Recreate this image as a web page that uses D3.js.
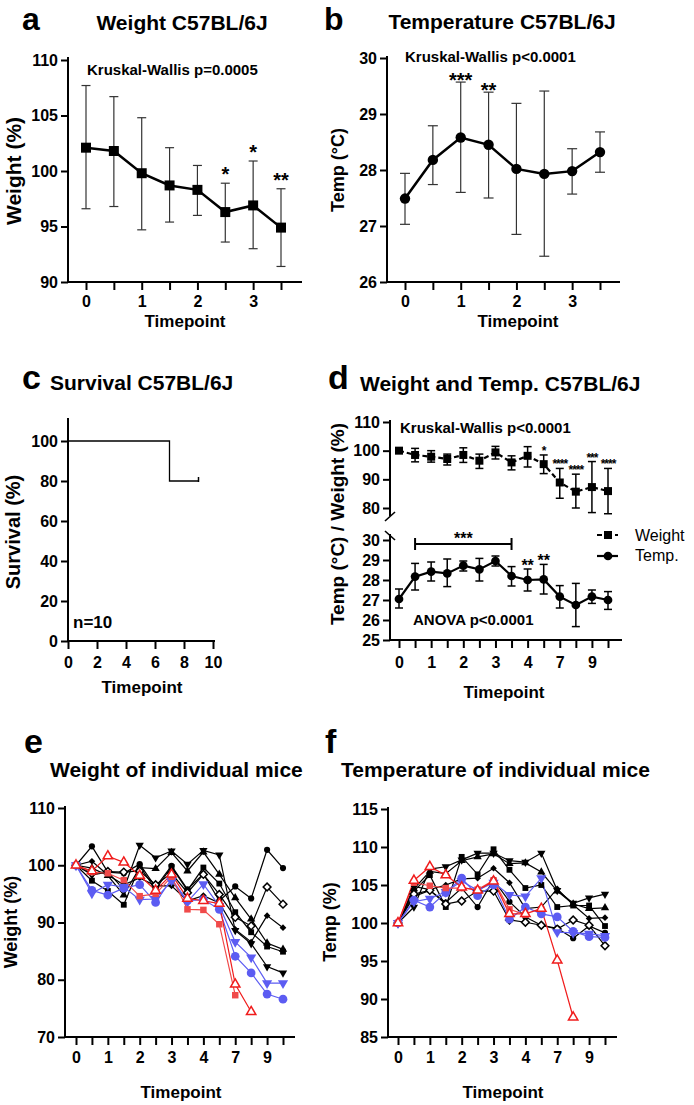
<!DOCTYPE html>
<meta charset="utf-8">
<style>
    body { margin: 0; background: #fff; }
    svg { font-family: "Liberation Sans", Arial, Helvetica, sans-serif; }
    .axis text { font-size: 16px; font-weight: bold; fill: #000; font-family: "Liberation Sans", Arial, sans-serif; }
    .axis line { stroke: #000; stroke-width: 2; }
</style>
<svg width="694" height="1105"></svg>
<script src="https://cdn.jsdelivr.net/npm/d3@7"></script>
<script>

    // ---- data ----
    var shortLabels = ["0", "", "1", "", "2", "", "3", ""];
    var longLabels = ["0", "", "1", "", "2", "", "3", "", "4", "", "7", "", "9", ""];

    // a: weight
    var wMean = [102.1, 101.8, 99.8, 98.7, 98.3, 96.3, 96.9, 94.9];
    var wHi = [107.7, 106.7, 104.8, 102.1, 100.5, 98.9, 100.9, 98.4];
    var wLo = [96.6, 96.8, 94.7, 95.4, 96.0, 93.6, 93.0, 91.4];
    var wStars = ["", "", "", "", "", "*", "*", "**"];

    // b: temperature
    var tMean = [27.49, 28.18, 28.58, 28.45, 28.02, 27.93, 27.98, 28.32];
    var tHi = [27.94, 28.79, 29.57, 29.39, 29.19, 29.41, 28.38, 28.68];
    var tLo = [27.03, 27.74, 27.60, 27.50, 26.85, 26.46, 27.57, 27.96];
    var tStars = ["", "", "***", "**", "", "", "", ""];

    // c: survival
    var survTime = [0, 7, 9];
    var survPct = [100, 80, 80];

    // d: weight and temp
    var dwMean = [100, 98.5, 97.9, 97.1, 98.5, 96.5, 99.4, 95.9, 98.2, 95.3, 88.9, 85.7, 87.3, 85.9];
    var dwHi = [100, 100.8, 100.0, 98.8, 101.0, 98.8, 101.5, 98.2, 101.4, 98.5, 93.8, 91.8, 96.2, 93.8];
    var dwLo = [100, 96.1, 96.0, 95.0, 95.9, 93.8, 97.1, 93.3, 94.3, 92.0, 83.4, 80.0, 78.4, 78.0];
    var dwStars = ["", "", "", "", "", "", "", "", "", "*", "****", "****", "***", "****"];
    var dtMean = [27.05, 28.17, 28.42, 28.33, 28.72, 28.53, 28.95, 28.20, 28.00, 28.03, 27.17, 26.75, 27.17, 27.00];
    var dtHi = [27.55, 28.83, 28.90, 29.05, 28.95, 29.08, 29.20, 28.67, 28.55, 28.78, 27.72, 27.83, 27.50, 27.42];
    var dtLo = [26.60, 27.50, 27.95, 27.67, 28.45, 27.95, 28.70, 27.70, 27.45, 27.30, 26.60, 25.67, 26.83, 26.53];
    var dtStars = ["", "", "", "", "", "", "", "", "**", "**", "", "", "", ""];
    var dtBracket = { from: 1, to: 7, level: 29.8, label: "***" };

    // e: weight of individual mice
    var eMice = [
        [100, 103.3, 98.8, 98.6, 100.2, 96.2, 99.9, 95.8, 98.5, 93.8, 96.3, 94.2, 102.7, 99.5],
        [100, 98.3, 98.8, 95.8, 103.5, 101.3, 102.5, 100.2, 102.6, 101.8, 88.6, 86.3, 82.3, 81.2],
        [100, 99.5, 98.2, 94.8, 99.6, 99.4, 102.2, 99.0, 102.3, 98.4, 94.3, 90.6, 86.4, 85.3],
        [100, 97.3, 95.5, 93.1, 99.8, 95.8, 99.7, 95.6, 99.6, 96.8, 91.8, 88.3, 85.8, 84.9],
        [100, 100.7, 98.3, 96.6, 97.8, 96.4, 96.4, 93.8, 94.7, 93.4, 88.8, 86.6, 91.2, 89.1],
        [100, 98.6, 98.9, 98.8, 99.0, 96.6, 98.6, 95.2, 98.4, 94.9, 90.9, 89.4, 96.2, 93.2],
        [100, 95.6, 94.8, 96.0, 96.6, 93.5, 97.6, 93.8, 94.0, 92.3, 84.1, 81.2, 77.5, 76.6],
        [100, 95.1, 96.6, 96.2, 94.0, 94.1, 97.3, 93.6, 96.7, 92.9, 86.6, 83.9, 79.4, 79.4],
        [100, 98.8, 98.6, 97.4, 94.6, 95.0, 98.0, 92.3, 92.2, 89.7, 77.3],
        [100, 99.0, 101.6, 100.5, 98.2, 95.6, 98.4, 94.2, 93.8, 93.3, 79.2, 74.4]
    ];

    // f: temperature of individual mice
    var fMice = [
        [100, 103.5, 104.3, 102.7, 104.6, 102.1, 105.7, 102.8, 100.8, 99.7, 99.3, 98.0, 99.6, 98.7],
        [100, 102.1, 107.1, 107.4, 108.3, 109.2, 109.2, 108.2, 108.0, 109.2, 104.3, 102.6, 103.3, 103.8],
        [100, 104.5, 106.8, 106.5, 108.2, 108.7, 109.1, 107.8, 107.9, 106.7, 104.2, 102.5, 101.9, 102.0],
        [100, 104.2, 106.3, 102.1, 108.7, 106.4, 109.7, 107.0, 104.6, 105.0, 102.1, 102.3, 102.3, 99.6],
        [100, 104.8, 104.4, 105.0, 105.8, 105.9, 107.2, 105.3, 101.9, 102.1, 104.5, 102.4, 100.6, 100.7],
        [100, 103.8, 104.3, 102.5, 102.9, 104.2, 104.2, 100.4, 100.1, 99.7, 99.2, 100.4, 99.7, 97.0],
        [100, 103.0, 102.1, 104.0, 105.9, 103.6, 105.0, 100.5, 102.1, 101.2, 100.8, 98.9, 98.2, 98.1],
        [100, 102.8, 103.2, 104.1, 105.5, 104.3, 105.3, 103.7, 103.5, 105.9, 98.8, 98.7, 98.6, 98.3],
        [100, 105.3, 104.9, 104.6, 104.6, 104.4, 105.6, 101.8, 101.1],
        [100, 105.6, 107.4, 106.3, 104.7, 104.3, 105.5, 101.2, 101.2, 101.9, 95.1, 87.6]
    ];

    // per-mouse look (same order in e and f)
    var mouseSym = ["circle", "down", "up", "square", "diamond", "diamond", "circle", "down", "square", "up"];
    var mouseCol = ["#000", "#000", "#000", "#000", "#000", "#000", "#5c5cf2", "#5c5cf2", "#f04a4a", "#f01c1c"];
    var mouseOpen = [false, false, false, false, false, true, false, false, false, true];
    var mouseSize = [30, 30, 30, 34, 22, 30, 60, 45, 42, 38];

    // ---- helpers ----
    var svg = d3.select("svg");

    function seg(x1, y1, x2, y2, w, col, dash) {
        return svg.append("line")
            .attr("x1", x1).attr("y1", y1).attr("x2", x2).attr("y2", y2)
            .attr("stroke", col || "#000").attr("stroke-width", w || 2)
            .attr("stroke-dasharray", dash || null);
    }

    function label(x, y, s, size, anchor, weight, rot) {
        var t = svg.append("text")
            .attr("x", x).attr("y", y)
            .attr("font-size", size)
            .attr("font-weight", weight || "bold")
            .attr("text-anchor", anchor || "start")
            .attr("fill", "#000")
            .text(s);
        if (rot) t.attr("transform", "rotate(-90," + x + "," + y + ")");
        return t;
    }

    function yAxis(sc, ticks, x, top, bottom) {
        var g = svg.append("g").attr("class", "axis")
            .attr("transform", "translate(" + x + ",0)")
            .call(d3.axisLeft(sc).tickValues(ticks).tickSize(7).tickPadding(3).tickFormat(d3.format("d")));
        g.select(".domain").remove();
        seg(x, top, x, bottom, 2);
    }

    function xAxis(sc, ticks, fmt, y, left, right, pad) {
        var g = svg.append("g").attr("class", "axis")
            .attr("transform", "translate(0," + y + ")")
            .call(d3.axisBottom(sc).tickValues(ticks).tickSize(8).tickPadding(pad).tickFormat(fmt));
        g.select(".domain").remove();
        seg(left, y, right, y, 2);
    }

    function errBars(x, y, lo, hi, cap, w, col) {
        lo.forEach(function (l, i) {
            var xi = x(i);
            seg(xi, y(l), xi, y(hi[i]), w, col);
            seg(xi - cap / 2, y(l), xi + cap / 2, y(l), w, col);
            seg(xi - cap / 2, y(hi[i]), xi + cap / 2, y(hi[i]), w, col);
        });
    }

    function symType(s) {
        if (s === "circle") return d3.symbolCircle;
        if (s === "up" || s === "down") return d3.symbolTriangle;
        return d3.symbolSquare;
    }
    function symRot(s) {
        if (s === "down") return " rotate(180)";
        if (s === "diamond") return " rotate(45)";
        return "";
    }

    function markers(x, y, vals, s, size, fill, stroke, sw) {
        svg.append("g").selectAll("path")
            .data(vals.map(function (v, i) { return [i, v]; }))
            .join("path")
            .attr("transform", function (d) {
                return "translate(" + x(d[0]) + "," + y(d[1]) + ")" + symRot(s);
            })
            .attr("d", d3.symbol(symType(s), size))
            .attr("fill", fill)
            .attr("stroke", stroke || "none")
            .attr("stroke-width", sw || 0);
    }

    function trace(x, y, vals, w, col, dash) {
        svg.append("path")
            .datum(vals)
            .attr("fill", "none")
            .attr("stroke", col)
            .attr("stroke-width", w)
            .attr("stroke-dasharray", dash || null)
            .attr("d", d3.line().x(function (d, i) { return x(i); }).y(function (d) { return y(d); }));
    }

    function stars(x, y, hi, st, size, dy, spacing) {
        st.forEach(function (s, i) {
            if (s) label(x(i), y(hi[i]) + dy, s, size, "middle")
                .attr("letter-spacing", spacing || null);
        });
    }

    // ---- a ----
    var xa = d3.scalePoint().domain(d3.range(wMean.length)).range([86, 281]);
    var ya = d3.scaleLinear().domain([90, 110]).range([282, 60]);
    label(22, 30, "a", 32);
    label(182, 30, "Weight C57BL/6J", 21, "middle");
    yAxis(ya, [90, 95, 100, 105, 110], 68, 57, 282);
    xAxis(xa, d3.range(8), function (i) { return shortLabels[i]; }, 282, 67, 302, 6);
    label(21, 171, "Weight (%)", 21, "middle", "bold", true);
    label(185, 327, "Timepoint", 17, "middle");
    label(87, 75, "Kruskal-Wallis p=0.0005", 15);
    errBars(xa, ya, wLo, wHi, 9, 1.2, "#333");
    trace(xa, ya, wMean, 2.5, "#000");
    markers(xa, ya, wMean, "square", 100, "#000");
    stars(xa, ya, wHi, wStars, 20, -2);

    // ---- b ----
    var xb = d3.scalePoint().domain(d3.range(tMean.length)).range([405, 600]);
    var yb = d3.scaleLinear().domain([26, 30]).range([282, 58]);
    label(324, 30, "b", 32);
    label(502, 29, "Temperature C57BL/6J", 21, "middle");
    yAxis(yb, [26, 27, 28, 29, 30], 387, 56, 282);
    xAxis(xb, d3.range(8), function (i) { return shortLabels[i]; }, 282, 386, 620, 6);
    label(344, 170, "Temp (°C)", 18, "middle", "bold", true);
    label(518, 327, "Timepoint", 17, "middle");
    label(405, 62, "Kruskal-Wallis p<0.0001", 15);
    errBars(xb, yb, tLo, tHi, 10, 1.2, "#333");
    trace(xb, yb, tMean, 2.5, "#000");
    markers(xb, yb, tMean, "circle", 85, "#000");
    stars(xb, yb, tHi, tStars, 20, 5);

    // ---- c ----
    var xc = d3.scaleLinear().domain([0, 10]).range([68, 213]);
    var yc = d3.scaleLinear().domain([0, 100]).range([641, 441]);
    label(22, 389, "c", 34);
    label(50, 390, "Survival C57BL/6J", 21);
    yAxis(yc, [0, 20, 40, 60, 80, 100], 68, 418, 641);
    xAxis(xc, [0, 2, 4, 6, 8, 10], d3.format("d"), 641, 67, 215, 8);
    label(20, 532, "Survival (%)", 20, "middle", "bold", true);
    label(142, 693, "Timepoint", 17, "middle");
    label(73, 628, "n=10", 17);
    svg.append("path")
        .datum(survTime.map(function (t, i) { return [t, survPct[i]]; }))
        .attr("fill", "none").attr("stroke", "#000").attr("stroke-width", 1.3)
        .attr("d", d3.line().curve(d3.curveStepAfter)
            .x(function (d) { return xc(d[0]); }).y(function (d) { return yc(d[1]); }));
    var last = survTime.length - 1;
    seg(xc(survTime[last]), yc(survPct[last]) - 4, xc(survTime[last]), yc(survPct[last]) + 1, 1.5);

    // ---- d ----
    var xd = d3.scalePoint().domain(d3.range(dwMean.length)).range([399, 608]);
    var ydUp = d3.scaleLinear().domain([80, 110]).range([508, 422]);
    var ydLo = d3.scaleLinear().domain([25, 30]).range([640, 540]);
    label(328, 389, "d", 34);
    label(360, 391, "Weight and Temp. C57BL/6J", 21);
    yAxis(ydUp, [80, 90, 100, 110], 390, 420, 516);
    yAxis(ydLo, [25, 26, 27, 28, 29, 30], 390, 534, 640);
    seg(385, 521, 395, 512, 1.6);
    seg(385, 531, 395, 540, 1.6);
    xAxis(xd, d3.range(14), function (i) { return longLabels[i]; }, 640, 389, 622, 9);
    label(344, 524, "Temp (°C) / Weight (%)", 19, "middle", "bold", true);
    label(504, 698, "Timepoint", 17, "middle");
    label(400, 433, "Kruskal-Wallis p<0.0001", 15);
    label(413, 625, "ANOVA p<0.0001", 15);
    errBars(xd, ydUp, dwLo, dwHi, 8, 1.5, "#000");
    trace(xd, ydUp, dwMean, 2.2, "#000", "5,3");
    markers(xd, ydUp, dwMean, "square", 64, "#000");
    stars(xd, ydUp, dwHi, dwStars, 12, 0, -1);
    errBars(xd, ydLo, dtLo, dtHi, 8, 1.5, "#000");
    trace(xd, ydLo, dtMean, 2.2, "#000");
    markers(xd, ydLo, dtMean, "circle", 60, "#000");
    stars(xd, ydLo, dtHi, dtStars, 16, 2);
    var by = ydLo(dtBracket.level);
    seg(xd(dtBracket.from), by, xd(dtBracket.to), by, 2);
    seg(xd(dtBracket.from), by - 6, xd(dtBracket.from), by + 6, 2);
    seg(xd(dtBracket.to), by - 6, xd(dtBracket.to), by + 6, 2);
    label((xd(dtBracket.from) + xd(dtBracket.to)) / 2, by, dtBracket.label, 16, "middle");
    // legend
    seg(597, 535, 618, 535, 2.2, "#000", "5,4");
    svg.append("path").attr("transform", "translate(608,535)").attr("d", d3.symbol(d3.symbolSquare, 64)).attr("fill", "#000");
    label(635, 541, "Weight", 16, "start", "normal");
    seg(597, 556, 618, 556, 2.2);
    svg.append("path").attr("transform", "translate(608,556)").attr("d", d3.symbol(d3.symbolCircle, 60)).attr("fill", "#000");
    label(635, 561, "Temp.", 16, "start", "normal");

    // ---- e ----
    var xe = d3.scalePoint().domain(d3.range(14)).range([76, 283]);
    var ye = d3.scaleLinear().domain([70, 110]).range([1037, 808]);
    label(24, 753, "e", 34);
    label(50, 777, "Weight of individual mice", 21);
    yAxis(ye, [70, 80, 90, 100, 110], 65, 806, 1037);
    xAxis(xe, d3.range(14), function (i) { return longLabels[i]; }, 1037, 64, 295, 7);
    label(17, 922, "Weight (%)", 18, "middle", "bold", true);
    label(181, 1098, "Timepoint", 17, "middle");

    // ---- f ----
    var xf = d3.scalePoint().domain(d3.range(14)).range([398, 605]);
    var yf = d3.scaleLinear().domain([85, 115]).range([1037, 809]);
    label(325, 753, "f", 34);
    label(341, 777, "Temperature of individual mice", 21);
    yAxis(yf, [85, 90, 95, 100, 105, 110, 115], 388, 807, 1037);
    xAxis(xf, d3.range(14), function (i) { return longLabels[i]; }, 1037, 387, 617, 7);
    label(336, 922, "Temp (%)", 18, "middle", "bold", true);
    label(503, 1098, "Timepoint", 17, "middle");

    function drawMice(x, y, mice) {
        mice.forEach(function (vals, m) {
            trace(x, y, vals, 1.2, mouseCol[m]);
        });
        mice.forEach(function (vals, m) {
            if (mouseOpen[m]) markers(x, y, vals, mouseSym[m], mouseSize[m], "#fff", mouseCol[m], 1.5);
            else markers(x, y, vals, mouseSym[m], mouseSize[m], mouseCol[m]);
        });
    }
    drawMice(xe, ye, eMice);
    drawMice(xf, yf, fMice);

</script>
